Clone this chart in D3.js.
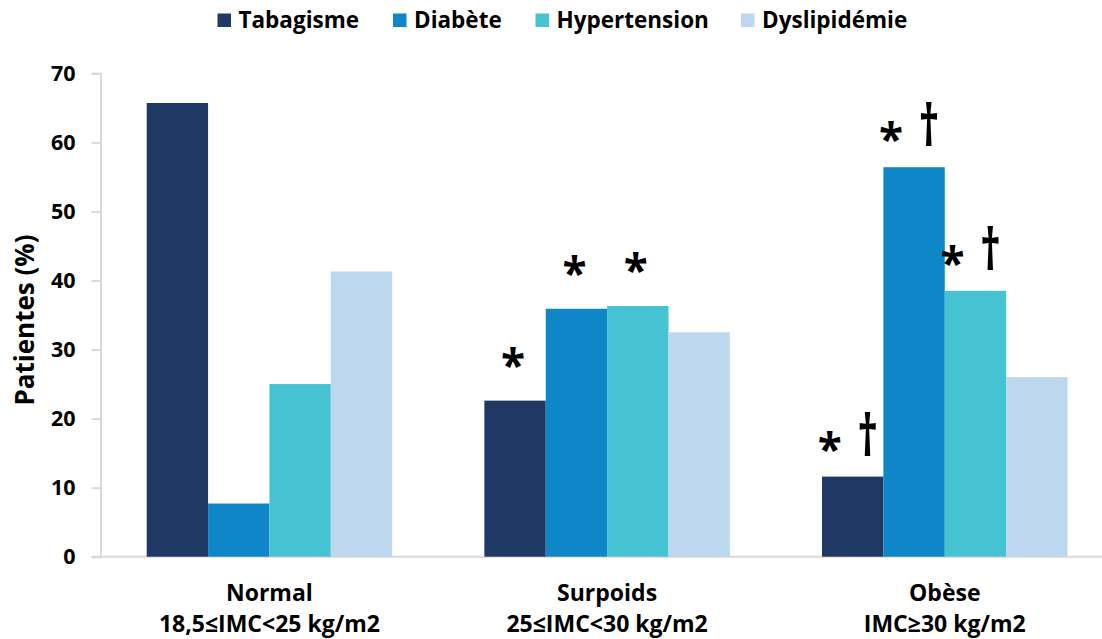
<!DOCTYPE html>
<html><head><meta charset="utf-8">
<script src="https://cdn.jsdelivr.net/npm/d3@7"></script>
<style>
body{margin:0;background:#fff;}
text{font-family:"Open Sans","Noto Sans",sans-serif;font-weight:700;fill:#000;}
</style></head>
<body><svg id="c" width="1102" height="639"></svg>
<script>
const categories = ["Normal", "Surpoids", "Obèse"];
const categorySub = ["18,5≤IMC<25 kg/m2", "25≤IMC<30 kg/m2", "IMC≥30 kg/m2"];
const series = ["Tabagisme", "Diabète", "Hypertension", "Dyslipidémie"];
const tabagisme = [65.7, 22.6, 11.6];
const diabete = [7.7, 35.9, 56.4];
const hypertension = [25.0, 36.3, 38.5];
const dyslipidemie = [41.3, 32.5, 26.0];
const yTicks = [0, 10, 20, 30, 40, 50, 60, 70];
// significance marks: [category, series, symbols]
const marks = [
  ["Surpoids", "Tabagisme", "*"],
  ["Surpoids", "Diabète", "*"],
  ["Surpoids", "Hypertension", "*"],
  ["Obèse", "Tabagisme", "*†"],
  ["Obèse", "Diabète", "*†"],
  ["Obèse", "Hypertension", "*†"]
];
const colors = ["#203864", "#0E86C8", "#45C3D2", "#BDD7EE"];

const values = [tabagisme, diabete, hypertension, dyslipidemie];
const svg = d3.select("#c");
const x0 = d3.scaleBand().domain(categories).range([100.6, 1113.6]).paddingInner(0.273).paddingOuter(0.1365);
const x1 = d3.scaleBand().domain(series).range([0, x0.bandwidth()]).padding(0);
const y = d3.scaleLinear().domain([0, 70]).range([556.7, 73.3]);
const color = d3.scaleOrdinal().domain(series).range(colors);

// axes
const yAxis = d3.axisLeft(y).tickValues(yTicks).tickSize(9).tickPadding(16).tickFormat(d3.format("d"));
const gy = svg.append("g").attr("transform", "translate(100.5,0)").call(yAxis);
gy.select(".domain").attr("stroke", "#d9d9d9").attr("stroke-width", 2);
gy.selectAll(".tick line").attr("stroke", "#d9d9d9").attr("stroke-width", 2);
gy.selectAll(".tick text").attr("font-size", 21.5).attr("font-family", '"Open Sans",sans-serif').attr("font-weight", 700).attr("fill", "#000");

svg.append("line").attr("x1", 92).attr("x2", 1102).attr("y1", y(0)).attr("y2", y(0))
  .attr("stroke", "#d9d9d9").attr("stroke-width", 2);

// bars
const g = svg.append("g");
categories.forEach((c, ci) => {
  series.forEach((s, si) => {
    const v = values[si][ci];
    g.append("rect")
      .attr("x", x0(c) + x1(s))
      .attr("y", y(v))
      .attr("width", x1.bandwidth())
      .attr("height", y(0) - y(v))
      .attr("fill", color(s));
  });
});

// x labels
categories.forEach((c, ci) => {
  const cx = x0(c) + x0.bandwidth() / 2;
  svg.append("text").attr("x", cx).attr("y", 600.5).attr("text-anchor", "middle").attr("font-size", 23).text(c);
  svg.append("text").attr("x", cx).attr("y", 632).attr("text-anchor", "middle").attr("font-size", 23).text(categorySub[ci]);
});

// y title
svg.append("text").attr("transform", "translate(34,320) rotate(-90)").attr("text-anchor", "middle")
  .attr("font-size", 26).text("Patientes (%)");

// significance marks
marks.forEach(([c, s, sym]) => {
  const si = series.indexOf(s), ci = categories.indexOf(c);
  const cx = x0(c) + x1(s) + x1.bandwidth() / 2;
  const top = y(values[si][ci]);
  if (sym === "*") {
    svg.append("text").attr("x", cx - 2).attr("y", top - 20).attr("text-anchor", "middle")
      .attr("font-size", 44).text("*");
  } else {
    svg.append("text").attr("x", cx - 23).attr("y", top - 12).attr("text-anchor", "middle")
      .attr("font-size", 44).text("*");
    const dx = cx + 15, dy = top - 21;
    svg.append("text").attr("x", dx).attr("y", dy).attr("text-anchor", "middle")
      .attr("font-family", '"DejaVu Sans",sans-serif').attr("font-weight", 400)
      .attr("font-size", 58).attr("transform", `translate(${dx},${dy}) scale(0.7,1) translate(${-dx},${-dy})`)
      .text("†");
  }
});

// legend
const legendX = [217.5, 393, 535.5, 741];
series.forEach((s, i) => {
  svg.append("rect").attr("x", legendX[i]).attr("y", 13.5).attr("width", 13.5).attr("height", 13.5).attr("fill", color(s));
  svg.append("text").attr("x", legendX[i] + 21).attr("y", 28).attr("font-size", 22.5).text(s);
});
</script></body></html>
